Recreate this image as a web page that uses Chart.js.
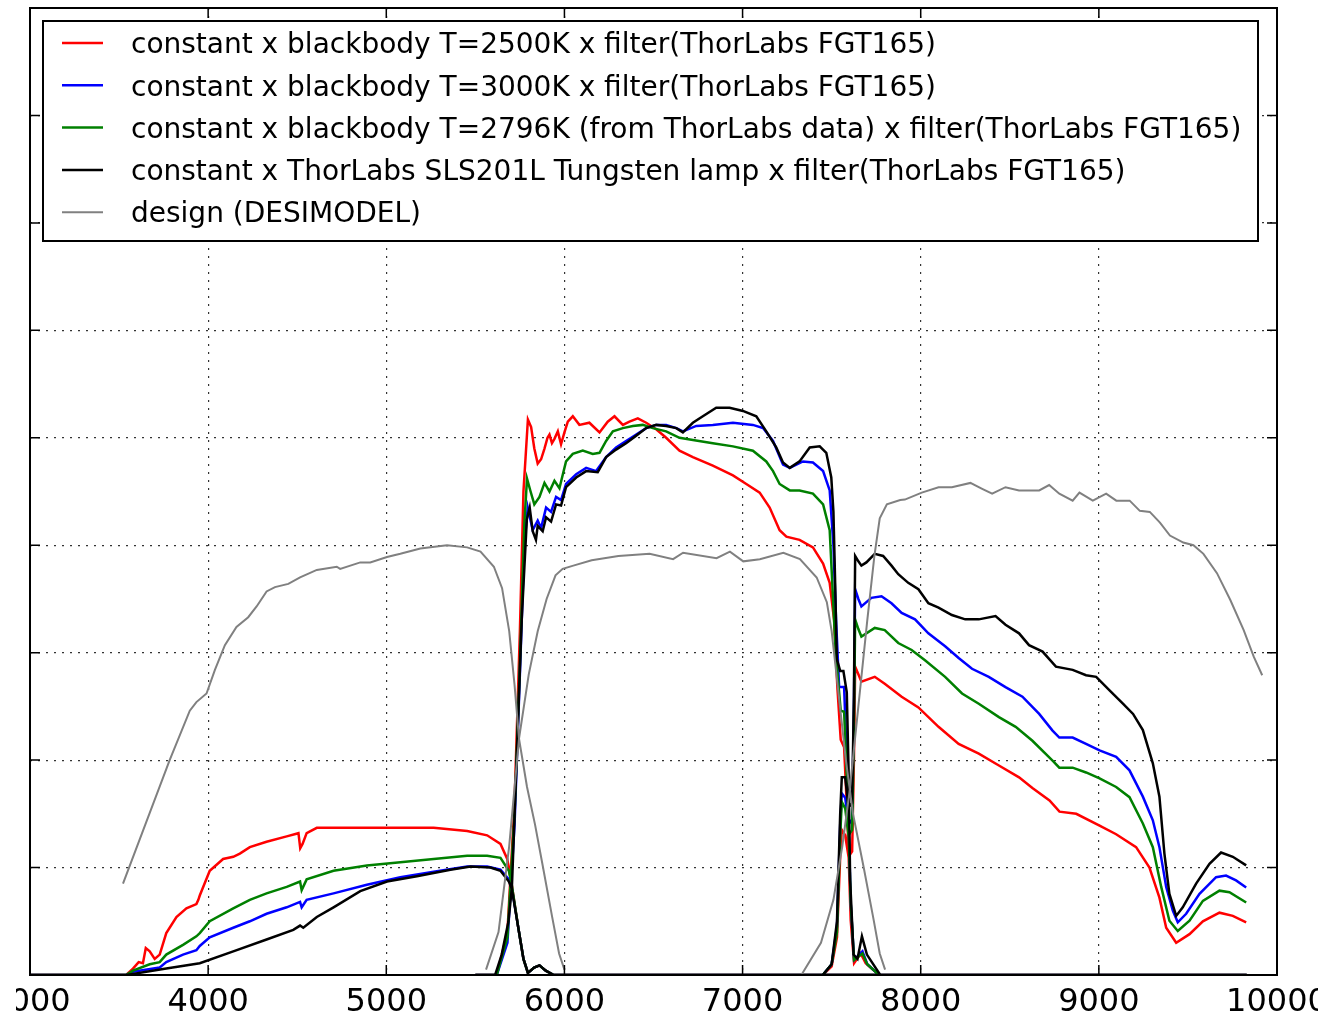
<!DOCTYPE html>
<html>
<head>
<meta charset="utf-8">
<script src="https://cdn.jsdelivr.net/npm/chart.js@4/dist/chart.umd.min.js"></script>
<style>
  html, body { margin: 0; padding: 0; background: #fff; overflow: hidden; }
  #wrap { position: relative; width: 1318px; height: 1019px; overflow: hidden; }
  #chart { position: absolute; left: -60px; top: 0; }
  /* the source picture is cropped just left of the first tick label */
  #crop { position: absolute; left: 0; top: 980px; width: 16px; height: 39px; background: #fff; }
</style>
</head>
<body>
<div id="wrap"><canvas id="chart" width="1438" height="1019"></canvas><div id="crop"></div></div>
<script>
// axis ticks
const xTicks = [3000, 4000, 5000, 6000, 7000, 8000, 9000, 10000];
const yMax = 0.9;

const labels = [
  'constant x blackbody T=2500K x filter(ThorLabs FGT165)',
  'constant x blackbody T=3000K x filter(ThorLabs FGT165)',
  'constant x blackbody T=2796K (from ThorLabs data) x filter(ThorLabs FGT165)',
  'constant x ThorLabs SLS201L Tungsten lamp x filter(ThorLabs FGT165)',
  'design (DESIMODEL)'
];

// [wavelength, value] per spectrograph arm (b, r, z)
const redB = [[3000,0],[3540,0],[3578,0.006],[3610,0.012],[3634,0.011],[3650,0.025],[3672,0.022],[3700,0.015],[3728,0.019],[3765,0.039],[3822,0.054],[3878,0.062],[3934,0.066],[3945,0.07],[3953,0.074],[4009,0.097],[4084,0.108],[4141,0.110],[4178,0.113],[4234,0.119],[4328,0.124],[4441,0.129],[4507,0.132],[4517,0.118],[4530,0.122],[4553,0.132],[4610,0.137],[4704,0.137],[4891,0.137],[5079,0.137],[5266,0.137],[5454,0.134],[5566,0.130],[5641,0.122],[5679,0.108],[5705,0.083],[5740,0.045],[5770,0.015],[5795,0.002],[5830,0.007],[5860,0.009],[5895,0.004],[5940,0],[9830,0]];
const redR = [[5500,0],[5620,0],[5680,0.04],[5720,0.16],[5750,0.32],[5770,0.45],[5795,0.517],[5813,0.51],[5831,0.49],[5850,0.476],[5869,0.48],[5888,0.49],[5905,0.5],[5916,0.503],[5930,0.495],[5944,0.499],[5963,0.506],[5981,0.494],[6000,0.505],[6019,0.515],[6047,0.52],[6084,0.512],[6140,0.514],[6197,0.505],[6243,0.515],[6281,0.52],[6328,0.512],[6365,0.515],[6412,0.518],[6459,0.514],[6515,0.508],[6571,0.5],[6646,0.488],[6721,0.482],[6833,0.474],[6946,0.465],[7021,0.457],[7096,0.449],[7152,0.435],[7208,0.414],[7246,0.408],[7320,0.405],[7395,0.398],[7452,0.383],[7489,0.365],[7514,0.33],[7532,0.268],[7551,0.219],[7570,0.212],[7589,0.144],[7607,0.051],[7626,0.011],[7663,0.02],[7691,0.011],[7766,0]];
const redZ = [[7300,0],[7450,0],[7500,0.008],[7530,0.035],[7548,0.11],[7557,0.135],[7576,0.13],[7595,0.11],[7615,0.115],[7625,0.2],[7632,0.287],[7650,0.28],[7667,0.273],[7742,0.2775],[7798,0.271],[7893,0.259],[7987,0.249],[8100,0.231],[8213,0.215],[8326,0.206],[8439,0.195],[8552,0.184],[8627,0.174],[8723,0.1625],[8779,0.152],[8873,0.150],[9004,0.139],[9097,0.131],[9209,0.119],[9284,0.1],[9340,0.072],[9378,0.044],[9434,0.030],[9509,0.038],[9584,0.05],[9677,0.058],[9752,0.055],[9827,0.049]];

const blueB = [[3000,0],[3540,0],[3578,0.003],[3728,0.007],[3765,0.012],[3859,0.019],[3934,0.023],[3953,0.027],[4009,0.035],[4141,0.044],[4234,0.050],[4328,0.057],[4441,0.063],[4516,0.068],[4525,0.063],[4553,0.070],[4704,0.076],[4891,0.084],[5079,0.091],[5266,0.096],[5454,0.101],[5566,0.101],[5641,0.098],[5688,0.089],[5705,0.081],[5740,0.045],[5770,0.015],[5795,0.002],[5830,0.007],[5860,0.009],[5895,0.004],[5940,0],[9830,0]];
const blueR = [[5500,0],[5620,0],[5680,0.03],[5720,0.14],[5750,0.28],[5775,0.4],[5794,0.435],[5822,0.414],[5850,0.423],[5869,0.416],[5897,0.435],[5925,0.431],[5953,0.445],[5981,0.442],[6009,0.457],[6066,0.466],[6122,0.472],[6178,0.469],[6234,0.482],[6290,0.491],[6346,0.497],[6403,0.503],[6459,0.509],[6515,0.512],[6571,0.512],[6628,0.509],[6665,0.506],[6740,0.511],[6833,0.512],[6946,0.514],[7058,0.512],[7115,0.509],[7171,0.497],[7227,0.475],[7265,0.472],[7339,0.478],[7395,0.477],[7452,0.469],[7489,0.451],[7510,0.4],[7525,0.33],[7542,0.268],[7570,0.268],[7589,0.181],[7607,0.067],[7626,0.014],[7673,0.022],[7700,0.01],[7766,0]];
const blueZ = [[7300,0],[7450,0],[7500,0.01],[7530,0.045],[7548,0.14],[7557,0.169],[7576,0.165],[7595,0.14],[7615,0.145],[7625,0.25],[7632,0.359],[7650,0.35],[7667,0.343],[7723,0.351],[7780,0.3525],[7836,0.346],[7893,0.337],[7968,0.331],[8043,0.318],[8137,0.306],[8213,0.295],[8288,0.285],[8382,0.2775],[8476,0.268],[8571,0.259],[8665,0.243],[8740,0.2275],[8778,0.221],[8853,0.221],[8928,0.215],[9004,0.209],[9097,0.203],[9172,0.1905],[9247,0.166],[9303,0.144],[9340,0.119],[9378,0.082],[9415,0.06],[9443,0.049],[9490,0.057],[9565,0.0755],[9658,0.091],[9714,0.0925],[9770,0.088],[9827,0.0815]];

const greenB = [[3000,0],[3540,0],[3578,0.004],[3672,0.010],[3728,0.012],[3765,0.019],[3859,0.028],[3934,0.036],[3953,0.039],[4009,0.050],[4141,0.062],[4234,0.070],[4328,0.076],[4441,0.082],[4516,0.087],[4525,0.079],[4553,0.089],[4704,0.097],[4891,0.102],[5079,0.105],[5266,0.108],[5454,0.111],[5566,0.111],[5641,0.109],[5688,0.097],[5705,0.083],[5740,0.045],[5770,0.015],[5795,0.002],[5830,0.007],[5860,0.009],[5895,0.004],[5940,0],[9830,0]];
const greenR = [[5500,0],[5620,0],[5680,0.035],[5720,0.15],[5750,0.29],[5775,0.42],[5790,0.462],[5810,0.45],[5831,0.438],[5860,0.445],[5888,0.458],[5916,0.45],[5944,0.46],[5972,0.453],[6009,0.478],[6047,0.485],[6103,0.488],[6159,0.485],[6197,0.486],[6234,0.497],[6272,0.506],[6328,0.509],[6384,0.511],[6440,0.512],[6496,0.509],[6571,0.506],[6646,0.5],[6721,0.498],[6833,0.495],[6946,0.492],[7058,0.488],[7133,0.478],[7171,0.469],[7208,0.457],[7265,0.451],[7320,0.451],[7395,0.448],[7452,0.438],[7489,0.414],[7523,0.299],[7551,0.246],[7570,0.245],[7589,0.169],[7607,0.067],[7626,0.014],[7673,0.02],[7700,0.01],[7766,0]];
const greenZ = [[7300,0],[7450,0],[7500,0.01],[7530,0.04],[7548,0.13],[7557,0.161],[7576,0.155],[7595,0.13],[7615,0.135],[7625,0.23],[7632,0.331],[7650,0.322],[7667,0.315],[7742,0.323],[7798,0.321],[7874,0.309],[7949,0.3025],[8024,0.293],[8137,0.2775],[8232,0.262],[8326,0.2525],[8439,0.24],[8533,0.231],[8627,0.218],[8740,0.1995],[8778,0.193],[8853,0.193],[8928,0.1885],[9004,0.183],[9097,0.175],[9172,0.1655],[9247,0.141],[9303,0.119],[9350,0.082],[9396,0.0505],[9443,0.041],[9509,0.0505],[9584,0.069],[9677,0.0785],[9733,0.077],[9827,0.0675]];

const lampB = [[3000,0],[3540,0],[3578,0.001],[3765,0.006],[3953,0.011],[4141,0.022],[4328,0.033],[4478,0.042],[4516,0.046],[4534,0.044],[4610,0.054],[4704,0.063],[4854,0.078],[5004,0.087],[5172,0.092],[5360,0.098],[5473,0.101],[5585,0.100],[5641,0.097],[5688,0.087],[5705,0.080],[5740,0.045],[5770,0.015],[5795,0.002],[5830,0.007],[5860,0.009],[5895,0.004],[5940,0],[9830,0]];
const lampR = [[5500,0],[5611,0],[5648,0.019],[5686,0.05],[5705,0.081],[5733,0.206],[5760,0.33],[5789,0.424],[5805,0.435],[5822,0.413],[5840,0.405],[5850,0.418],[5878,0.413],[5897,0.426],[5925,0.422],[5953,0.438],[5981,0.437],[6009,0.454],[6066,0.463],[6122,0.469],[6187,0.468],[6234,0.482],[6290,0.489],[6346,0.495],[6403,0.502],[6459,0.509],[6515,0.512],[6571,0.511],[6628,0.509],[6665,0.505],[6721,0.514],[6777,0.52],[6852,0.528],[6927,0.528],[7002,0.525],[7077,0.52],[7133,0.506],[7189,0.491],[7227,0.477],[7265,0.472],[7320,0.478],[7377,0.491],[7433,0.492],[7470,0.486],[7498,0.463],[7510,0.431],[7520,0.363],[7529,0.294],[7548,0.283],[7566,0.283],[7585,0.263],[7595,0.191],[7604,0.088],[7623,0.019],[7645,0.015],[7670,0.036],[7698,0.019],[7773,0]];
const lampZ = [[7300,0],[7450,0],[7500,0.01],[7530,0.05],[7548,0.15],[7557,0.184],[7576,0.184],[7595,0.156],[7615,0.16],[7625,0.26],[7632,0.39],[7650,0.385],[7667,0.381],[7695,0.384],[7742,0.392],[7789,0.390],[7836,0.381],[7874,0.373],[7930,0.365],[7987,0.359],[8043,0.346],[8100,0.342],[8175,0.335],[8250,0.331],[8326,0.331],[8420,0.334],[8476,0.326],[8552,0.318],[8608,0.307],[8684,0.301],[8759,0.287],[8853,0.284],[8928,0.279],[8985,0.2775],[9060,0.265],[9135,0.2525],[9192,0.243],[9247,0.228],[9303,0.197],[9340,0.166],[9368,0.113],[9396,0.0755],[9434,0.055],[9471,0.063],[9546,0.085],[9621,0.1035],[9686,0.114],[9752,0.110],[9827,0.102]];

const designB = [[3522,0.085],[3784,0.2],[3897,0.246],[3934,0.254],[3991,0.262],[4038,0.284],[4094,0.307],[4159,0.324],[4225,0.333],[4272,0.343],[4328,0.357],[4375,0.361],[4450,0.364],[4516,0.37],[4610,0.377],[4722,0.38],[4741,0.378],[4854,0.384],[4910,0.384],[5004,0.389],[5079,0.392],[5191,0.397],[5341,0.4],[5454,0.398],[5529,0.394],[5604,0.38],[5650,0.36],[5690,0.32],[5720,0.27],[5745,0.22],[5790,0.175],[5835,0.14],[5880,0.1],[5930,0.055],[5970,0.02],[6000,0.005]];
const designR = [[5560,0.005],[5630,0.04],[5690,0.12],[5745,0.22],[5800,0.28],[5850,0.32],[5900,0.35],[5950,0.372],[5990,0.378],[6050,0.381],[6153,0.386],[6303,0.39],[6478,0.392],[6610,0.387],[6666,0.393],[6854,0.388],[6929,0.394],[7004,0.385],[7097,0.387],[7229,0.393],[7322,0.387],[7416,0.37],[7473,0.347],[7500,0.32],[7540,0.26],[7580,0.2],[7620,0.15],[7680,0.1],[7735,0.052],[7770,0.02],[7800,0.005]];
const designZ = [[7330,0],[7440,0.03],[7510,0.07],[7560,0.12],[7600,0.17],[7650,0.25],[7700,0.33],[7740,0.39],[7770,0.425],[7810,0.438],[7885,0.442],[7911,0.4425],[8006,0.449],[8100,0.454],[8175,0.454],[8279,0.458],[8345,0.4525],[8401,0.448],[8476,0.454],[8552,0.451],[8665,0.451],[8721,0.456],[8778,0.448],[8853,0.4415],[8891,0.449],[8966,0.4415],[9041,0.448],[9098,0.4415],[9173,0.4415],[9230,0.432],[9286,0.431],[9343,0.421],[9399,0.409],[9474,0.4025],[9531,0.4],[9587,0.392],[9663,0.374],[9738,0.349],[9813,0.321],[9870,0.296],[9917,0.279]];

// join the arms into one line, broken between arms
function joinArms(arms) {
  const pts = [];
  arms.forEach((arm, i) => {
    if (i > 0) pts.push({ x: arm[0][0], y: null });
    arm.forEach(([x, y]) => pts.push({ x, y }));
  });
  return pts;
}

const series = [
  { data: joinArms([redB, redR, redZ]), color: '#ff0000', width: 2.5, order: 5 },
  { data: joinArms([blueB, blueR, blueZ]), color: '#0000ff', width: 2.5, order: 4 },
  { data: joinArms([greenB, greenR, greenZ]), color: '#008000', width: 2.5, order: 3 },
  { data: joinArms([lampB, lampR, lampZ]), color: '#000000', width: 2.5, order: 2 },
  { data: joinArms([designB, designR, designZ]), color: '#808080', width: 2, order: 1 }
];

const frameAndLegend = {
  id: 'frameAndLegend',
  afterDraw(chart) {
    const ctx = chart.ctx;
    const a = chart.chartArea;
    const xs = chart.scales.x, ys = chart.scales.y;
    ctx.save();
    ctx.strokeStyle = '#000';
    ctx.lineWidth = 1.5;
    // inward ticks
    ctx.beginPath();
    xs.ticks.forEach(t => {
      const px = xs.getPixelForValue(t.value);
      if (px <= a.left + 1 || px >= a.right - 1) return;
      ctx.moveTo(px, a.bottom); ctx.lineTo(px, a.bottom - 10);
      ctx.moveTo(px, a.top); ctx.lineTo(px, a.top + 10);
    });
    ys.ticks.forEach(t => {
      const py = ys.getPixelForValue(t.value);
      if (py <= a.top + 1 || py >= a.bottom - 1) return;
      ctx.moveTo(a.left, py); ctx.lineTo(a.left + 10, py);
      ctx.moveTo(a.right, py); ctx.lineTo(a.right - 10, py);
    });
    ctx.stroke();
    // frame
    ctx.lineWidth = 2;
    ctx.strokeRect(a.left, a.top, a.right - a.left, a.bottom - a.top);

    // legend box
    const bx = a.left + 13, by = a.top + 13, bw = 1215, bh = 220;
    ctx.fillStyle = '#fff';
    ctx.fillRect(bx, by, bw, bh);
    ctx.lineWidth = 2;
    ctx.strokeRect(bx, by, bw, bh);
    ctx.font = '28px "DejaVu Sans"';
    ctx.textBaseline = 'middle';
    chart.data.datasets.forEach((ds, i) => {
      const cy = by + 22 + i * 42.3;
      ctx.strokeStyle = ds.borderColor;
      ctx.lineWidth = ds.borderWidth;
      ctx.beginPath();
      ctx.moveTo(bx + 19, cy); ctx.lineTo(bx + 60, cy);
      ctx.stroke();
      ctx.fillStyle = '#000';
      ctx.fillText(ds.label, bx + 88, cy + 3);
    });
    ctx.restore();
  }
};

new Chart(document.getElementById('chart'), {
  type: 'line',
  data: {
    datasets: series.map((s, i) => ({
      label: labels[i],
      data: s.data,
      borderColor: s.color,
      backgroundColor: s.color,
      borderWidth: s.width,
      order: s.order,
      pointRadius: 0,
      tension: 0,
      spanGaps: false,
      fill: false
    }))
  },
  options: {
    responsive: false,
    animation: false,
    layout: { padding: { left: 90, right: 101, top: 8, bottom: 0 } },
    plugins: { legend: { display: false }, tooltip: { enabled: false } },
    scales: {
      x: {
        type: 'linear',
        min: xTicks[0],
        max: xTicks[xTicks.length - 1],
        afterBuildTicks: (scale) => { scale.ticks = xTicks.map(v => ({ value: v })); },
        afterFit: (scale) => { scale.height = 44; },
        grid: { color: 'rgba(0,0,0,0.8)', lineWidth: 1.2, drawTicks: false },
        border: { display: false, dash: [2, 6] },
        ticks: {
          color: '#000',
          font: { family: 'DejaVu Sans', size: 32 },
          padding: 8,
          maxRotation: 0,
          autoSkip: false,
          callback: (v) => String(v)
        }
      },
      y: {
        min: 0,
        max: yMax,
        afterFit: (scale) => { scale.width = 0; },
        grid: { color: 'rgba(0,0,0,0.8)', lineWidth: 1.2, drawTicks: false },
        border: { display: false, dash: [2, 6] },
        ticks: { display: false, stepSize: 0.1 }
      }
    }
  },
  plugins: [frameAndLegend]
});
</script>
</body>
</html>
